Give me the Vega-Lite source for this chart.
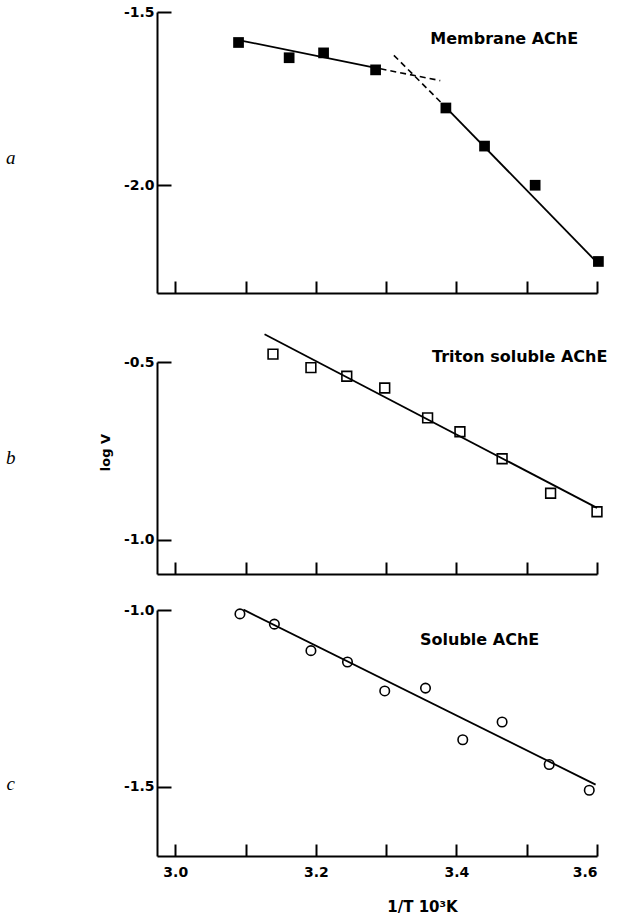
{
  "$schema": "https://vega.github.io/schema/vega-lite/v6.json",
  "padding": {"left": 6, "top": 5, "right": 5, "bottom": 5},
  "background": "white",
  "bounds": "flush",
  "spacing": 69,
  "datasets": {
    "points": [
      {"panel": "a", "x": 3.090, "y": -1.588},
      {"panel": "a", "x": 3.162, "y": -1.632},
      {"panel": "a", "x": 3.211, "y": -1.618},
      {"panel": "a", "x": 3.285, "y": -1.667},
      {"panel": "a", "x": 3.385, "y": -1.777},
      {"panel": "a", "x": 3.440, "y": -1.887},
      {"panel": "a", "x": 3.512, "y": -2.000},
      {"panel": "a", "x": 3.602, "y": -2.220},
      {"panel": "b", "x": 3.139, "y": -0.478},
      {"panel": "b", "x": 3.193, "y": -0.516},
      {"panel": "b", "x": 3.244, "y": -0.540},
      {"panel": "b", "x": 3.298, "y": -0.573},
      {"panel": "b", "x": 3.359, "y": -0.657},
      {"panel": "b", "x": 3.405, "y": -0.696},
      {"panel": "b", "x": 3.465, "y": -0.772},
      {"panel": "b", "x": 3.534, "y": -0.869},
      {"panel": "b", "x": 3.600, "y": -0.921},
      {"panel": "c", "x": 3.092, "y": -1.011},
      {"panel": "c", "x": 3.141, "y": -1.040},
      {"panel": "c", "x": 3.193, "y": -1.115},
      {"panel": "c", "x": 3.245, "y": -1.147},
      {"panel": "c", "x": 3.298, "y": -1.229},
      {"panel": "c", "x": 3.356, "y": -1.221},
      {"panel": "c", "x": 3.409, "y": -1.367},
      {"panel": "c", "x": 3.465, "y": -1.317},
      {"panel": "c", "x": 3.532, "y": -1.437},
      {"panel": "c", "x": 3.589, "y": -1.510}
    ],
    "lines": [
      {"seg": "a1", "x": 3.090, "y": -1.581},
      {"seg": "a1", "x": 3.292, "y": -1.664},
      {"seg": "a1d", "x": 3.292, "y": -1.664},
      {"seg": "a1d", "x": 3.377, "y": -1.698},
      {"seg": "a2d", "x": 3.311, "y": -1.625},
      {"seg": "a2d", "x": 3.385, "y": -1.775},
      {"seg": "a2", "x": 3.385, "y": -1.775},
      {"seg": "a2", "x": 3.602, "y": -2.227},
      {"seg": "b", "x": 3.127, "y": -0.422},
      {"seg": "b", "x": 3.600, "y": -0.910},
      {"seg": "c", "x": 3.097, "y": -0.999},
      {"seg": "c", "x": 3.598, "y": -1.494}
    ],
    "labels": [
      {"panel": "a", "text": "Membrane AChE", "x": 3.468, "y": -1.579},
      {"panel": "b", "text": "Triton soluble AChE", "x": 3.490, "y": -0.486},
      {"panel": "c", "text": "Soluble AChE", "x": 3.433, "y": -1.084}
    ],
    "letters": [
      {"panel": "a", "text": "a", "x": 2.766, "y": -1.92},
      {"panel": "b", "text": "b", "x": 2.766, "y": -0.771},
      {"panel": "c", "text": "c", "x": 2.766, "y": -1.492}
    ]
  },
  "vconcat": [
    {
      "width": 440,
      "height": 281,
      "encoding": {
        "x": {"field": "x", "type": "quantitative", "scale": {"domain": [2.974, 3.6], "nice": false, "zero": false},
          "axis": {"values": [3.0, 3.1, 3.2, 3.3, 3.4, 3.5, 3.6], "labels": false, "tickSize": -12, "title": null}},
        "y": {"field": "y", "type": "quantitative", "scale": {"domain": [-2.311, -1.5], "nice": false, "zero": false},
          "axis": {"values": [-1.5, -2.0], "format": ".1f", "labelExpr": "replace(datum.label, '−', '-')", "tickSize": -14, "labelPadding": 17, "title": null}}
      },
      "layer": [
        {"data": {"name": "lines"}, "transform": [{"filter": "datum.seg == 'a1' || datum.seg == 'a2'"}],
         "mark": {"type": "line", "color": "black", "strokeWidth": 1.8}, "encoding": {"detail": {"field": "seg"}}},
        {"data": {"name": "lines"}, "transform": [{"filter": "datum.seg == 'a1d' || datum.seg == 'a2d'"}],
         "mark": {"type": "line", "color": "black", "strokeWidth": 1.6, "strokeDash": [6, 4]}, "encoding": {"detail": {"field": "seg"}}},
        {"data": {"name": "points"}, "transform": [{"filter": "datum.panel == 'a'"}],
         "mark": {"type": "point", "shape": "square", "filled": true, "color": "black", "opacity": 1, "size": 115}},
        {"data": {"name": "labels"}, "transform": [{"filter": "datum.panel == 'a'"}],
         "mark": {"type": "text", "font": "DejaVu Sans", "fontWeight": "bold", "fontSize": 16, "color": "black", "align": "center", "baseline": "middle"},
         "encoding": {"text": {"field": "text"}}},
        {"data": {"name": "letters"}, "transform": [{"filter": "datum.panel == 'a'"}],
         "mark": {"type": "text", "font": "Liberation Serif", "fontStyle": "italic", "fontSize": 19, "color": "black", "align": "center", "baseline": "middle"},
         "encoding": {"text": {"field": "text"}}}
      ]
    },
    {
      "bounds": "flush",
      "spacing": 36,
      "vconcat": [
        {
          "width": 440,
          "height": 212,
          "encoding": {
            "x": {"field": "x", "type": "quantitative", "scale": {"domain": [2.974, 3.6], "nice": false, "zero": false},
              "axis": {"values": [3.0, 3.1, 3.2, 3.3, 3.4, 3.5, 3.6], "labels": false, "tickSize": -12, "title": null}},
            "y": {"field": "y", "type": "quantitative", "scale": {"domain": [-1.096, -0.5], "nice": false, "zero": false},
              "axis": {"values": [-0.5, -1.0], "format": ".1f", "labelExpr": "replace(datum.label, '−', '-')", "tickSize": -14, "labelPadding": 17,
                "title": "log V", "titleX": -52, "titleY": 90, "titleAngle": -90, "titleAlign": "center", "titleBaseline": "middle", "titleFontSize": 13}}
          },
          "layer": [
            {"data": {"name": "lines"}, "transform": [{"filter": "datum.seg == 'b'"}],
             "mark": {"type": "line", "color": "black", "strokeWidth": 1.8}, "encoding": {}},
            {"data": {"name": "points"}, "transform": [{"filter": "datum.panel == 'b'"}],
             "mark": {"type": "point", "shape": "square", "filled": false, "color": "black", "strokeWidth": 1.6, "opacity": 1, "size": 95}},
            {"data": {"name": "labels"}, "transform": [{"filter": "datum.panel == 'b'"}],
             "mark": {"type": "text", "font": "DejaVu Sans", "fontWeight": "bold", "fontSize": 16, "color": "black", "align": "center", "baseline": "middle"},
             "encoding": {"text": {"field": "text"}}},
            {"data": {"name": "letters"}, "transform": [{"filter": "datum.panel == 'b'"}],
             "mark": {"type": "text", "font": "Liberation Serif", "fontStyle": "italic", "fontSize": 19, "color": "black", "align": "center", "baseline": "middle"},
             "encoding": {"text": {"field": "text"}}}
          ]
        },
        {
          "width": 440,
          "height": 246,
          "encoding": {
            "x": {"field": "x", "type": "quantitative", "scale": {"domain": [2.974, 3.6], "nice": false, "zero": false},
              "axis": {"values": [3.0, 3.1, 3.2, 3.3, 3.4, 3.5, 3.6], "format": ".1f",
                "labelExpr": "indexof(['3.0','3.2','3.4','3.6'], datum.label) >= 0 ? datum.label : ''",
                "tickSize": -12, "labelPadding": 21, "labelFontSize": 14,
                "title": "1/T  10³K", "titleX": 265, "titleY": 50, "titleAlign": "center", "titleBaseline": "middle", "titleFontSize": 15}},
            "y": {"field": "y", "type": "quantitative", "scale": {"domain": [-1.696, -1.0], "nice": false, "zero": false},
              "axis": {"values": [-1.0, -1.5], "format": ".1f", "labelExpr": "replace(datum.label, '−', '-')", "tickSize": -14, "labelPadding": 17, "title": null}}
          },
          "layer": [
            {"data": {"name": "lines"}, "transform": [{"filter": "datum.seg == 'c'"}],
             "mark": {"type": "line", "color": "black", "strokeWidth": 1.8}, "encoding": {}},
            {"data": {"name": "points"}, "transform": [{"filter": "datum.panel == 'c'"}],
             "mark": {"type": "point", "shape": "circle", "filled": false, "color": "black", "strokeWidth": 1.6, "opacity": 1, "size": 90}},
            {"data": {"name": "labels"}, "transform": [{"filter": "datum.panel == 'c'"}],
             "mark": {"type": "text", "font": "DejaVu Sans", "fontWeight": "bold", "fontSize": 16, "color": "black", "align": "center", "baseline": "middle"},
             "encoding": {"text": {"field": "text"}}},
            {"data": {"name": "letters"}, "transform": [{"filter": "datum.panel == 'c'"}],
             "mark": {"type": "text", "font": "Liberation Serif", "fontStyle": "italic", "fontSize": 19, "color": "black", "align": "center", "baseline": "middle"},
             "encoding": {"text": {"field": "text"}}}
          ]
        }
      ]
    }
  ],
  "config": {
    "view": {"stroke": null},
    "axis": {"domainColor": "black", "domainWidth": 2, "tickColor": "black", "tickWidth": 2, "grid": false,
      "labelFont": "DejaVu Sans", "labelFontWeight": "bold", "labelFontSize": 14, "labelColor": "black",
      "titleFont": "DejaVu Sans", "titleFontWeight": "bold", "titleColor": "black"}
  }
}
